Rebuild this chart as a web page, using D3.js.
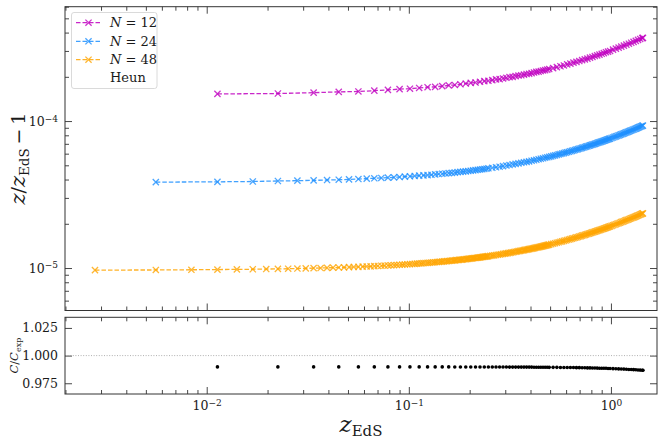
<!DOCTYPE html>
<html>
<head>
<meta charset="utf-8">
<script src="https://cdn.jsdelivr.net/npm/d3@7"></script>
<style>
  body { margin: 0; background: #fff; }
  text { font-family: "DejaVu Serif", serif; fill: #1a1a1a; }
</style>
</head>
<body>
<script>
// ---- data ----
// z_EdS of each plotted step (dense ends thinned where markers overlap)
const zN12 = [0.0113,0.0225,0.0338,0.045,0.0563,0.0675,0.0788,0.09,0.1013,0.1125,0.1238,0.135,0.1463,0.1575,0.1688,0.18,0.1913,0.2025,0.2138,0.225,0.2363,0.2475,0.2588,0.27,0.2813,0.2925,0.3038,0.315,0.3263,0.3375,0.3488,0.36,0.3713,0.3825,0.3938,0.405,0.4163,0.4275,0.4388,0.45,0.4613,0.4725,0.4838,0.495,
  0.5175,0.54,0.5625,0.585,0.6075,0.63,0.6525,0.675,0.6975,0.72,0.7425,0.765,0.7875,0.81,0.8325,0.855,0.8775,0.90,0.9225,0.945,0.9675,0.99,
  1.0238,1.0575,1.0913,1.125,1.1588,1.1925,1.2263,1.26,1.2938,1.3275,1.3613,1.395,1.4288,1.44];
const yN12 = [1.53e-4,1.54e-4,1.56e-4,1.58e-4,1.59e-4,1.61e-4,1.63e-4,1.65e-4,1.66e-4,1.68e-4,1.70e-4,1.71e-4,1.73e-4,1.75e-4,1.76e-4,1.78e-4,1.80e-4,1.82e-4,1.83e-4,1.85e-4,1.87e-4,1.88e-4,1.90e-4,1.92e-4,1.93e-4,1.95e-4,1.97e-4,1.99e-4,2.00e-4,2.02e-4,2.04e-4,2.05e-4,2.07e-4,2.09e-4,2.10e-4,2.12e-4,2.14e-4,2.16e-4,2.17e-4,2.19e-4,2.21e-4,2.22e-4,2.24e-4,2.26e-4,
  2.29e-4,2.33e-4,2.36e-4,2.39e-4,2.43e-4,2.46e-4,2.50e-4,2.53e-4,2.56e-4,2.60e-4,2.63e-4,2.66e-4,2.70e-4,2.73e-4,2.77e-4,2.80e-4,2.83e-4,2.87e-4,2.90e-4,2.94e-4,2.97e-4,3.00e-4,
  3.06e-4,3.11e-4,3.16e-4,3.21e-4,3.26e-4,3.31e-4,3.36e-4,3.41e-4,3.46e-4,3.51e-4,3.57e-4,3.62e-4,3.67e-4,3.68e-4];

const zN24 = [0.0056,0.0113,0.0169,0.0225,0.0281,0.0338,0.0394,0.045,0.0506,0.0563,0.0619,0.0675,0.0731,0.0788,0.0844,0.09,0.0956,0.1013,0.1069,0.1125,0.1181,0.1238,0.1294,0.135,0.1406,0.1463,0.1519,0.1575,0.1631,0.1688,0.1744,0.18,0.1856,0.1913,0.1969,0.2025,0.2081,0.2138,0.2194,0.225,0.2306,0.2363,0.2419,0.2475,
  0.2588,0.27,0.2813,0.2925,0.3038,0.315,0.3263,0.3375,0.3488,0.36,0.3713,0.3825,0.3938,0.405,0.4163,0.4275,0.4388,0.45,0.4613,0.4725,0.4838,0.495,
  0.5063,0.5175,0.5288,0.54,0.5513,0.5625,0.5738,0.585,0.5963,0.6075,0.6188,0.63,0.6413,0.6525,0.6638,0.675,0.6863,0.6975,0.7088,0.72,0.7313,0.7425,0.7538,0.765,0.7763,0.7875,0.7988,0.81,0.8213,0.8325,0.8438,0.855,0.8663,0.8775,0.8888,0.90,0.9113,0.9225,0.9338,0.945,0.9563,0.9675,0.9788,0.99,
  1.0069,1.0238,1.0406,1.0575,1.0744,1.0913,1.1081,1.125,1.1419,1.1588,1.1756,1.1925,1.2094,1.2263,1.2431,1.26,1.2769,1.2938,1.3106,1.3275,1.3444,1.3613,1.3781,1.395,1.4119,1.4288,1.44];
const yN24 = [3.84e-5,3.86e-5,3.88e-5,3.91e-5,3.93e-5,3.95e-5,3.97e-5,3.99e-5,4.01e-5,4.03e-5,4.06e-5,4.08e-5,4.10e-5,4.12e-5,4.14e-5,4.16e-5,4.19e-5,4.21e-5,4.23e-5,4.25e-5,4.27e-5,4.29e-5,4.31e-5,4.34e-5,4.36e-5,4.38e-5,4.40e-5,4.42e-5,4.44e-5,4.46e-5,4.49e-5,4.51e-5,4.53e-5,4.55e-5,4.57e-5,4.59e-5,4.62e-5,4.64e-5,4.66e-5,4.68e-5,4.70e-5,4.72e-5,4.74e-5,4.77e-5,
  4.81e-5,4.85e-5,4.89e-5,4.94e-5,4.98e-5,5.02e-5,5.07e-5,5.11e-5,5.15e-5,5.20e-5,5.24e-5,5.28e-5,5.32e-5,5.37e-5,5.41e-5,5.45e-5,5.50e-5,5.54e-5,5.58e-5,5.63e-5,5.67e-5,5.71e-5,
  5.75e-5,5.80e-5,5.84e-5,5.88e-5,5.93e-5,5.97e-5,6.01e-5,6.05e-5,6.10e-5,6.14e-5,6.18e-5,6.23e-5,6.27e-5,6.31e-5,6.36e-5,6.40e-5,6.44e-5,6.48e-5,6.53e-5,6.57e-5,6.61e-5,6.66e-5,6.70e-5,6.74e-5,6.79e-5,6.83e-5,6.87e-5,6.91e-5,6.96e-5,7.00e-5,7.04e-5,7.09e-5,7.13e-5,7.17e-5,7.22e-5,7.26e-5,7.30e-5,7.34e-5,7.39e-5,7.43e-5,7.47e-5,7.52e-5,7.56e-5,7.60e-5,
  7.67e-5,7.73e-5,7.80e-5,7.86e-5,7.92e-5,7.99e-5,8.05e-5,8.12e-5,8.18e-5,8.25e-5,8.31e-5,8.38e-5,8.44e-5,8.50e-5,8.57e-5,8.63e-5,8.70e-5,8.76e-5,8.83e-5,8.89e-5,8.96e-5,9.02e-5,9.09e-5,9.15e-5,9.21e-5,9.28e-5,9.32e-5];

const zN48 = [0.0028,0.0056,0.0084,0.0113,0.0141,0.0169,0.0197,0.0225,0.0253,0.0281,0.0309,0.0338,0.0366,0.0394,0.0422,0.045,0.0478,0.0506,0.0534,0.0563,0.0591,0.0619,0.0647,0.0675,0.0703,0.0731,0.0759,0.0788,0.0816,0.0844,0.0872,0.09,0.0928,0.0956,0.0984,0.1013,0.1041,0.1069,0.1097,0.1125,0.1153,0.1181,0.1209,0.1238,
  0.1266,0.1294,0.1322,0.135,0.1378,0.1406,0.1434,0.1463,0.1491,0.1519,0.1547,0.1575,0.1603,0.1631,0.1659,0.1688,0.1716,0.1744,0.1772,0.18,0.1828,0.1856,0.1884,0.1913,0.1941,0.1969,0.1997,0.2025,0.2053,0.2081,0.2109,0.2138,0.2166,0.2194,0.2222,0.225,0.2278,0.2306,0.2334,0.2363,0.2391,0.2419,0.2447,0.2475,
  0.2531,0.2588,0.2644,0.27,0.2756,0.2813,0.2869,0.2925,0.2981,0.3038,0.3094,0.315,0.3206,0.3263,0.3319,0.3375,0.3431,0.3488,0.3544,0.36,0.3656,0.3713,0.3769,0.3825,0.3881,0.3938,0.3994,0.405,0.4106,0.4163,0.4219,0.4275,0.4331,0.4388,0.4444,0.45,0.4556,0.4613,0.4669,0.4725,0.4781,0.4838,0.4894,0.495,
  0.5063,0.5175,0.5288,0.54,0.5513,0.5625,0.5738,0.585,0.5963,0.6075,0.6188,0.63,0.6413,0.6525,0.6638,0.675,0.6863,0.6975,0.7088,0.72,0.7313,0.7425,0.7538,0.765,0.7763,0.7875,0.7988,0.81,0.8213,0.8325,0.8438,0.855,0.8663,0.8775,0.8888,0.90,0.9113,0.9225,0.9338,0.945,0.9563,0.9675,0.9788,0.99,
  1.0069,1.0238,1.0406,1.0575,1.0744,1.0913,1.1081,1.125,1.1419,1.1588,1.1756,1.1925,1.2094,1.2263,1.2431,1.26,1.2769,1.2938,1.3106,1.3275,1.3444,1.3613,1.3781,1.395,1.4119,1.4288,1.44];
const yN48 = [9.68e-6,9.70e-6,9.73e-6,9.76e-6,9.79e-6,9.81e-6,9.84e-6,9.87e-6,9.89e-6,9.92e-6,9.95e-6,9.98e-6,10.00e-6,10.03e-6,10.06e-6,10.08e-6,10.11e-6,10.14e-6,10.17e-6,10.19e-6,10.22e-6,10.25e-6,10.27e-6,10.30e-6,10.33e-6,10.36e-6,10.38e-6,10.41e-6,10.44e-6,10.46e-6,10.49e-6,10.52e-6,10.55e-6,10.57e-6,10.60e-6,10.63e-6,10.65e-6,10.68e-6,10.71e-6,10.74e-6,10.76e-6,10.79e-6,10.82e-6,10.84e-6,
  10.87e-6,10.90e-6,10.93e-6,10.95e-6,10.98e-6,11.01e-6,11.03e-6,11.06e-6,11.09e-6,11.12e-6,11.14e-6,11.17e-6,11.20e-6,11.22e-6,11.25e-6,11.28e-6,11.31e-6,11.33e-6,11.36e-6,11.39e-6,11.41e-6,11.44e-6,11.47e-6,11.50e-6,11.52e-6,11.55e-6,11.58e-6,11.60e-6,11.63e-6,11.66e-6,11.69e-6,11.71e-6,11.74e-6,11.77e-6,11.79e-6,11.82e-6,11.85e-6,11.88e-6,11.90e-6,11.93e-6,11.96e-6,11.98e-6,12.01e-6,12.04e-6,
  12.09e-6,12.15e-6,12.20e-6,12.26e-6,12.31e-6,12.36e-6,12.42e-6,12.47e-6,12.53e-6,12.58e-6,12.64e-6,12.69e-6,12.74e-6,12.80e-6,12.85e-6,12.91e-6,12.96e-6,13.02e-6,13.07e-6,13.12e-6,13.18e-6,13.23e-6,13.29e-6,13.34e-6,13.40e-6,13.45e-6,13.50e-6,13.56e-6,13.61e-6,13.67e-6,13.72e-6,13.78e-6,13.83e-6,13.88e-6,13.94e-6,13.99e-6,14.05e-6,14.10e-6,14.16e-6,14.21e-6,14.26e-6,14.32e-6,14.37e-6,14.43e-6,
  14.54e-6,14.64e-6,14.75e-6,14.86e-6,14.97e-6,15.08e-6,15.19e-6,15.30e-6,15.40e-6,15.51e-6,15.62e-6,15.73e-6,15.84e-6,15.95e-6,16.06e-6,16.16e-6,16.27e-6,16.38e-6,16.49e-6,16.60e-6,16.71e-6,16.82e-6,16.92e-6,17.03e-6,17.14e-6,17.25e-6,17.36e-6,17.47e-6,17.58e-6,17.68e-6,17.79e-6,17.90e-6,18.01e-6,18.12e-6,18.23e-6,18.34e-6,18.44e-6,18.55e-6,18.66e-6,18.77e-6,18.88e-6,18.99e-6,19.10e-6,19.20e-6,
  19.37e-6,19.53e-6,19.69e-6,19.86e-6,20.02e-6,20.18e-6,20.34e-6,20.51e-6,20.67e-6,20.83e-6,21.00e-6,21.16e-6,21.32e-6,21.48e-6,21.65e-6,21.81e-6,21.97e-6,22.13e-6,22.30e-6,22.46e-6,22.62e-6,22.79e-6,22.95e-6,23.11e-6,23.28e-6,23.44e-6,23.55e-6];

// C/C_exp on the N=12 steps (lower panel)
const ratioN12 = [0.9898,0.9898,0.9898,0.9898,0.9898,0.9898,0.9898,0.9898,0.9898,0.9898,0.9898,0.9898,0.9898,0.9898,
  0.9897,0.9897,0.9897,0.9897,0.9897,0.9897,0.9897,0.9897,0.9897,0.9897,0.9897,0.9897,0.9897,
  0.9896,0.9896,0.9896,0.9896,0.9896,0.9896,0.9896,0.9896,0.9896,
  0.9895,0.9895,0.9895,0.9895,0.9895,0.9895,0.9895,0.9894,
  0.9894,0.9894,0.9893,0.9893,0.9892,0.9892,0.9892,0.9891,0.9891,0.9890,0.9890,0.9889,0.9889,0.9888,0.9888,0.9887,0.9886,0.9886,0.9885,0.9885,0.9884,0.9883,
  0.9882,0.9881,0.9880,0.9879,0.9878,0.9877,0.9875,0.9874,0.9873,0.9872,0.9870,0.9869,0.9867,0.9867];

const seriesNames = ["12", "24", "48"];
const seriesColors = ["#c000c0", "#1e90ff", "#ffa500"];

// ---- layout ----
const width = 664, height = 443;
const left = 65, right = 657;
const top1 = 6.7, bot1 = 310.5, top2 = 317.3, bot2 = 394;
const ink = "#333";

const svg = d3.select("body").append("svg")
    .attr("width", width)
    .attr("height", height);

const x = d3.scaleLog().domain([0.00199, 1.69]).range([left, right]);
const y = d3.scaleLog().domain([5.14e-6, 6.0e-4]).range([bot1, top1]);
const yr = d3.scaleLinear().domain([0.9653, 1.0346]).range([bot2, top2]);

let isMajor = function (d) {
  return Math.abs(Math.log10(d) - Math.round(Math.log10(d))) < 1e-6;
};
const xMajor = x.ticks().filter(isMajor), xMinor = x.ticks().filter(d => !isMajor(d));
const yMajor = y.ticks().filter(isMajor), yMinor = y.ticks().filter(d => !isMajor(d));

// 10^n labels
let powTen = function (sel) {
  sel.each(function (d) {
    const e = Math.round(Math.log10(d));
    const t = d3.select(this).text(null);
    t.append("tspan").text("10");
    t.append("tspan").attr("dy", "-0.45em").attr("font-size", "0.72em")
      .text((e < 0 ? "\u2212" : "") + Math.abs(e));
  });
};

let ticks = function (axis, tx, ty, values, size, labels) {
  const g = svg.append("g")
      .attr("transform", "translate(" + tx + "," + ty + ")")
      .call(axis.tickValues(values).tickSize(-size).tickPadding(7)
        .tickFormat(labels ? (d => d) : ""));
  g.attr("font-family", "DejaVu Serif").attr("font-size", 12.5);
  g.select(".domain").remove();
  g.selectAll(".tick line").attr("stroke", ink).attr("stroke-width", 0.9);
  return g;
};

// top panel ticks
ticks(d3.axisBottom(x), 0, bot1, xMajor, 7, false);
ticks(d3.axisBottom(x), 0, bot1, xMinor, 4, false);
ticks(d3.axisTop(x), 0, top1, xMajor, 7, false);
ticks(d3.axisTop(x), 0, top1, xMinor, 4, false);
ticks(d3.axisLeft(y), left, 0, yMajor, 7, true).selectAll("text").call(powTen);
ticks(d3.axisLeft(y), left, 0, yMinor, 4, false);
ticks(d3.axisRight(y), right, 0, yMajor, 7, false);
ticks(d3.axisRight(y), right, 0, yMinor, 4, false);

// bottom panel ticks
ticks(d3.axisBottom(x), 0, bot2, xMajor, 7, true).selectAll("text").call(powTen);
ticks(d3.axisBottom(x), 0, bot2, xMinor, 4, false);
ticks(d3.axisTop(x), 0, top2, xMajor, 7, false);
ticks(d3.axisTop(x), 0, top2, xMinor, 4, false);
ticks(d3.axisLeft(yr), left, 0, [0.975, 1.0, 1.025], 7, true)
  .selectAll("text").text(d3.format(".3f"));
ticks(d3.axisRight(yr), right, 0, [0.975, 1.0, 1.025], 7, false);

// reference line at 1
svg.append("line")
    .attr("x1", left).attr("x2", right)
    .attr("y1", yr(1)).attr("y2", yr(1))
    .attr("stroke", "#9a9a9a").attr("stroke-width", 0.8)
    .attr("stroke-dasharray", "1,1.6");

// ---- series ----
const xMark = "M-3.1,-3.1L3.1,3.1M-3.1,3.1L3.1,-3.1";
const line = d3.line().x(d => x(d[0])).y(d => y(d[1]));
const allZ = [zN12, zN24, zN48], allY = [yN12, yN24, yN48];

seriesNames.forEach(function (n, i) {
  const pts = d3.zip(allZ[i], allY[i]);
  svg.append("path")
      .attr("d", line(pts))
      .attr("fill", "none")
      .attr("stroke", seriesColors[i])
      .attr("stroke-opacity", 0.85)
      .attr("stroke-width", 1.3)
      .attr("stroke-dasharray", "4.5,2");
  svg.append("g").selectAll("path")
    .data(pts)
    .enter().append("path")
      .attr("d", xMark)
      .attr("transform", d => "translate(" + x(d[0]) + "," + y(d[1]) + ")")
      .attr("fill", "none")
      .attr("stroke", seriesColors[i])
      .attr("stroke-opacity", 0.8)
      .attr("stroke-width", 1.3);
});

svg.append("g").selectAll("circle")
  .data(d3.zip(zN12, ratioN12))
  .enter().append("circle")
    .attr("cx", d => x(d[0]))
    .attr("cy", d => yr(d[1]))
    .attr("r", 1.8)
    .attr("fill", "#000");

// spines
[[top1, bot1], [top2, bot2]].forEach(function (p) {
  svg.append("rect")
      .attr("x", left).attr("y", p[0])
      .attr("width", right - left).attr("height", p[1] - p[0])
      .attr("fill", "none").attr("stroke", ink).attr("stroke-width", 1);
});

// ---- legend ----
const leg = svg.append("g");
leg.append("rect")
    .attr("x", 71.5).attr("y", 12.5).attr("width", 85.5).attr("height", 76)
    .attr("rx", 2.5)
    .attr("fill", "#fff").attr("fill-opacity", 0.8)
    .attr("stroke", "#d0d0d0").attr("stroke-width", 0.8);
const legY = [22.7, 41.3, 59.7, 77.7];
seriesNames.forEach(function (n, i) {
  leg.append("line")
      .attr("x1", 76).attr("x2", 101).attr("y1", legY[i]).attr("y2", legY[i])
      .attr("stroke", seriesColors[i]).attr("stroke-opacity", 0.85)
      .attr("stroke-width", 1.3).attr("stroke-dasharray", "4.5,2");
  leg.append("path")
      .attr("d", xMark)
      .attr("transform", "translate(88.5," + legY[i] + ")")
      .attr("fill", "none").attr("stroke", seriesColors[i])
      .attr("stroke-opacity", 0.8).attr("stroke-width", 1.3);
  const t = leg.append("text").attr("x", 110).attr("y", legY[i] + 4.6).attr("font-size", 13);
  t.append("tspan").attr("font-style", "italic").text("N");
  t.append("tspan").text(" = " + n);
});
leg.append("text").attr("x", 110).attr("y", legY[3] + 4.6).attr("font-size", 13).text("Heun");

// ---- axis labels ----
const xl = svg.append("text")
    .attr("x", (left + right) / 2).attr("y", 432)
    .attr("text-anchor", "middle");
xl.append("tspan").attr("font-size", 23).attr("font-style", "italic").text("z");
xl.append("tspan").attr("font-size", 15).attr("dy", 4).text("EdS");

const yl = svg.append("text")
    .attr("transform", "translate(25," + (top1 + bot1) / 2 + ") rotate(-90)")
    .attr("text-anchor", "middle");
yl.append("tspan").attr("font-size", 21).attr("font-style", "italic").text("z");
yl.append("tspan").attr("font-size", 19).text("/");
yl.append("tspan").attr("font-size", 21).attr("font-style", "italic").text("z");
yl.append("tspan").attr("font-size", 13.5).attr("dy", 4).text("EdS");
yl.append("tspan").attr("font-size", 19).attr("dy", -4).text("\u2009\u2212\u20091");

const yl2 = svg.append("text")
    .attr("transform", "translate(18," + (top2 + bot2) / 2 + ") rotate(-90)")
    .attr("text-anchor", "middle");
yl2.append("tspan").attr("font-size", 11.5).attr("font-style", "italic").text("C");
yl2.append("tspan").attr("font-size", 11.5).text("/");
yl2.append("tspan").attr("font-size", 11.5).attr("font-style", "italic").text("C");
yl2.append("tspan").attr("font-size", 8).attr("dy", 2.5).text("exp");
</script>
</body>
</html>
